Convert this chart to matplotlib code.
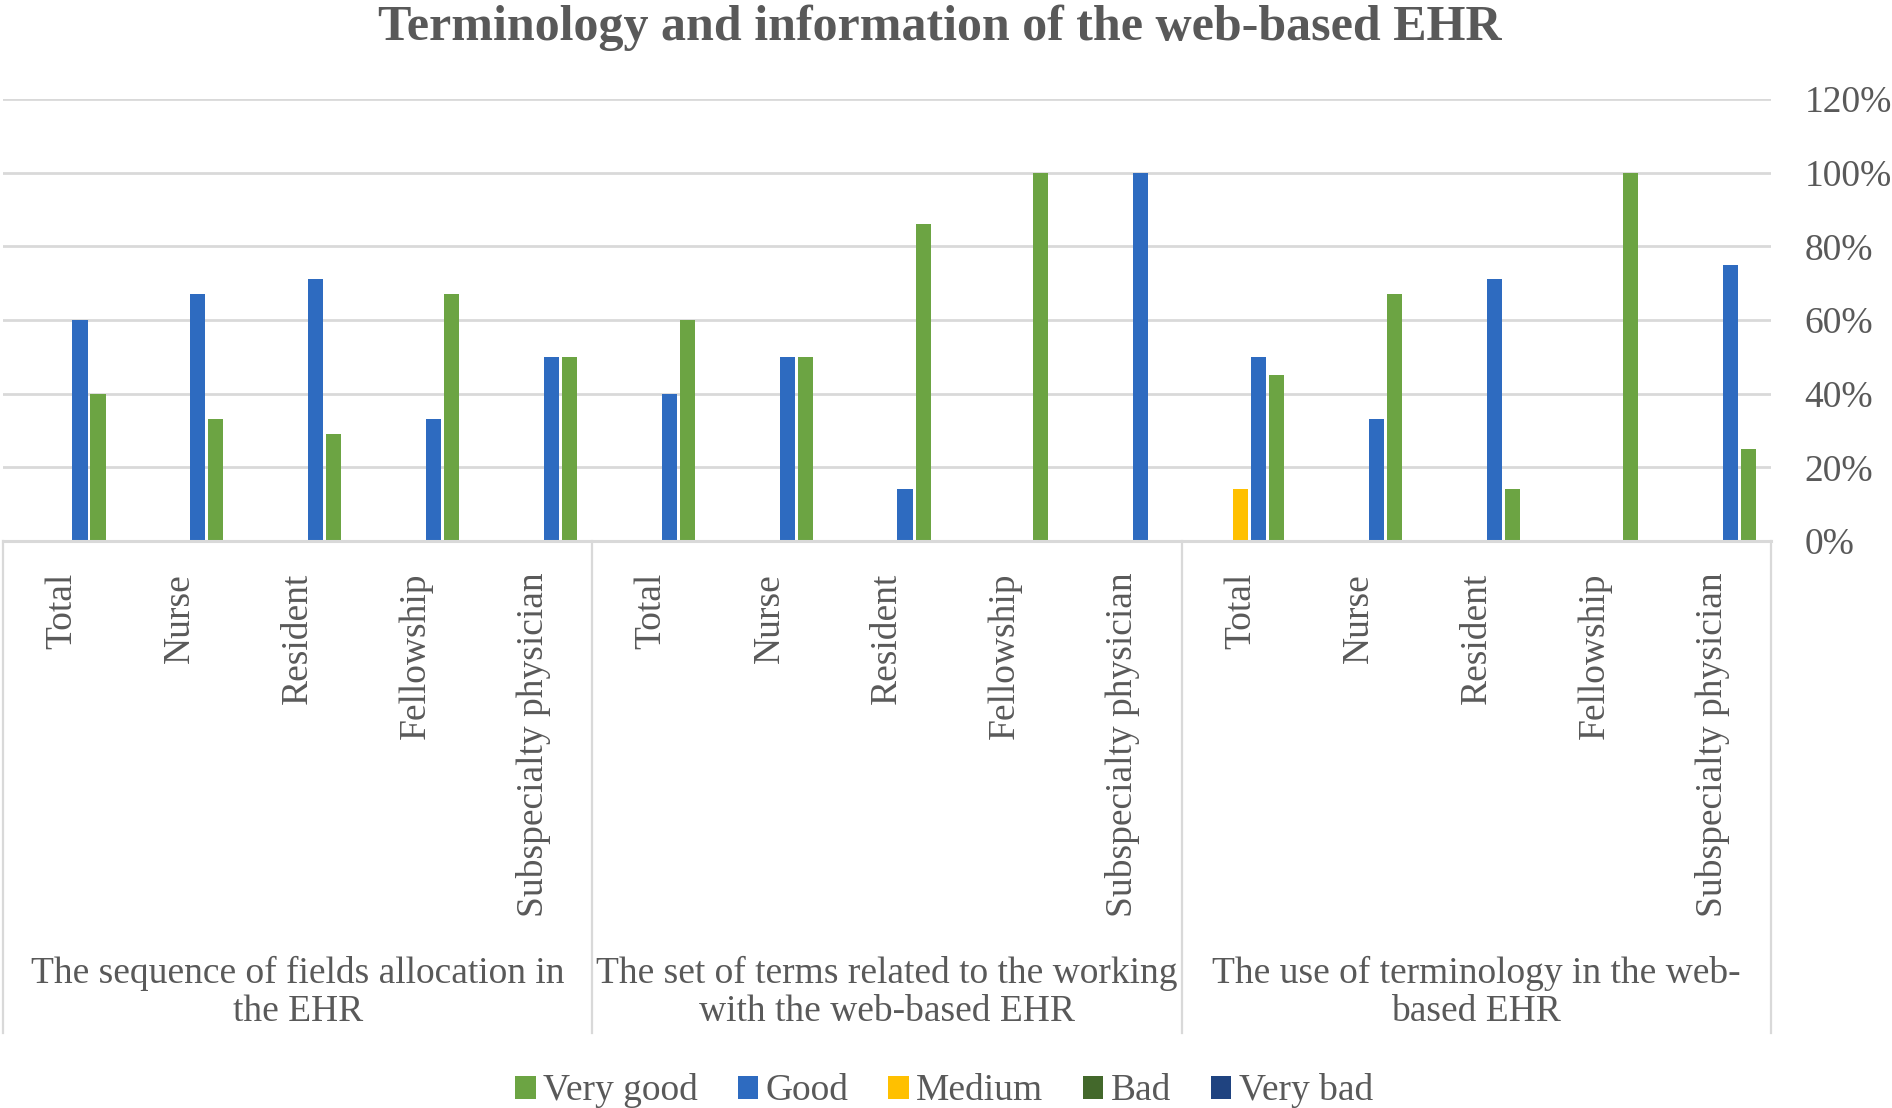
import numpy as np
import matplotlib
matplotlib.use('Agg')
import matplotlib.pyplot as plt
from matplotlib.patches import Patch

plt.rcParams['font.family'] = ['Liberation Serif', 'DejaVu Serif']

groups = ['The sequence of fields allocation in\nthe EHR',
          'The set of terms related to the working\nwith the web-based EHR',
          'The use of terminology in the web-\nbased EHR']
roles = ['Total', 'Nurse', 'Resident', 'Fellowship', 'Subspecialty physician']

# values in %, order of categories: group1 roles, group2 roles, group3 roles
very_good = [40, 33, 29, 67, 50,  60, 50, 86, 100, 0,  45, 67, 14, 100, 25]
good      = [60, 67, 71, 33, 50,  40, 50, 14, 0, 100,  50, 33, 71, 0, 75]
medium    = [0, 0, 0, 0, 0,       0, 0, 0, 0, 0,       14, 0, 0, 0, 0]
bad       = [0] * 15
very_bad  = [0] * 15

series_names = ['Very good', 'Good', 'Medium', 'Bad', 'Very bad']
colors = ['#6CA443', '#2E6BC0', '#FFC000', '#43682B', '#1F4380']
# drawing order left -> right inside a category
draw_order = [('Very bad', very_bad), ('Bad', bad), ('Medium', medium),
              ('Good', good), ('Very good', very_good)]
col = dict(zip(series_names, colors))

txt = '#595959'
grid_c = '#D9D9D9'

fig = plt.figure(figsize=(18.92, 11.08), dpi=100)
ax = fig.add_axes([3 / 1892, 1 - 541 / 1108, (1771 - 3) / 1892, (541 - 99) / 1108])

n = len(roles) * len(groups)
x = np.arange(n)
slot = 0.153
for i, (name, vals) in enumerate(draw_order):
    v = np.array(vals) / 100
    ax.bar(x + (i - 2) * slot, v, width=0.128, color=col[name], linewidth=0)

ax.set_xlim(-0.5, n - 0.5)
ax.set_ylim(0, 1.2)
ax.set_yticks(np.arange(0, 1.21, 0.2))
ax.set_yticklabels(['{:.0f}%'.format(t * 100) for t in np.arange(0, 1.21, 0.2)])
ax.yaxis.tick_right()
ax.tick_params(axis='y', length=0, pad=24, labelsize=27, labelcolor=txt)
ax.set_xticks([])
ax.yaxis.grid(True, color=grid_c, linewidth=2)
ax.set_axisbelow(True)
for s in ax.spines.values():
    s.set_visible(False)

# multi-level category axis
tr = ax.get_xaxis_transform()
ax.plot([-0.5, n - 0.5], [0, 0], color=grid_c, lw=2.2, transform=tr, clip_on=False)
for b in [-0.5, 4.5, 9.5, n - 0.5]:
    ax.plot([b, b], [0, -1.113], color=grid_c, lw=1.6, transform=tr, clip_on=False)
for k in range(n):
    ax.text(x[k], -0.072, roles[k % len(roles)], rotation=90, ha='center', va='top',
            fontsize=27, color=txt, transform=tr)
for g, label in enumerate(groups):
    ax.text(g * 5 + 2, -1.022, label, ha='center', va='center', fontsize=27,
            color=txt, transform=tr, linespacing=1.12)

fig.text(0.4965, 1 - 40 / 1108, 'Terminology and information of the web-based EHR',
         ha='center', va='baseline', fontsize=36, fontweight='bold', color=txt)

handles = [Patch(facecolor=c, label=s) for s, c in zip(series_names, colors)]
leg = fig.legend(handles=handles, loc='center', bbox_to_anchor=(0.499, 1 - 1091 / 1108),
                 ncol=5, frameon=False, fontsize=27, handlelength=0.55, handleheight=0.55,
                 handletextpad=0.2, columnspacing=1.05, borderaxespad=0)
for t in leg.get_texts():
    t.set_color(txt)

fig.savefig('out.png', dpi=100)
